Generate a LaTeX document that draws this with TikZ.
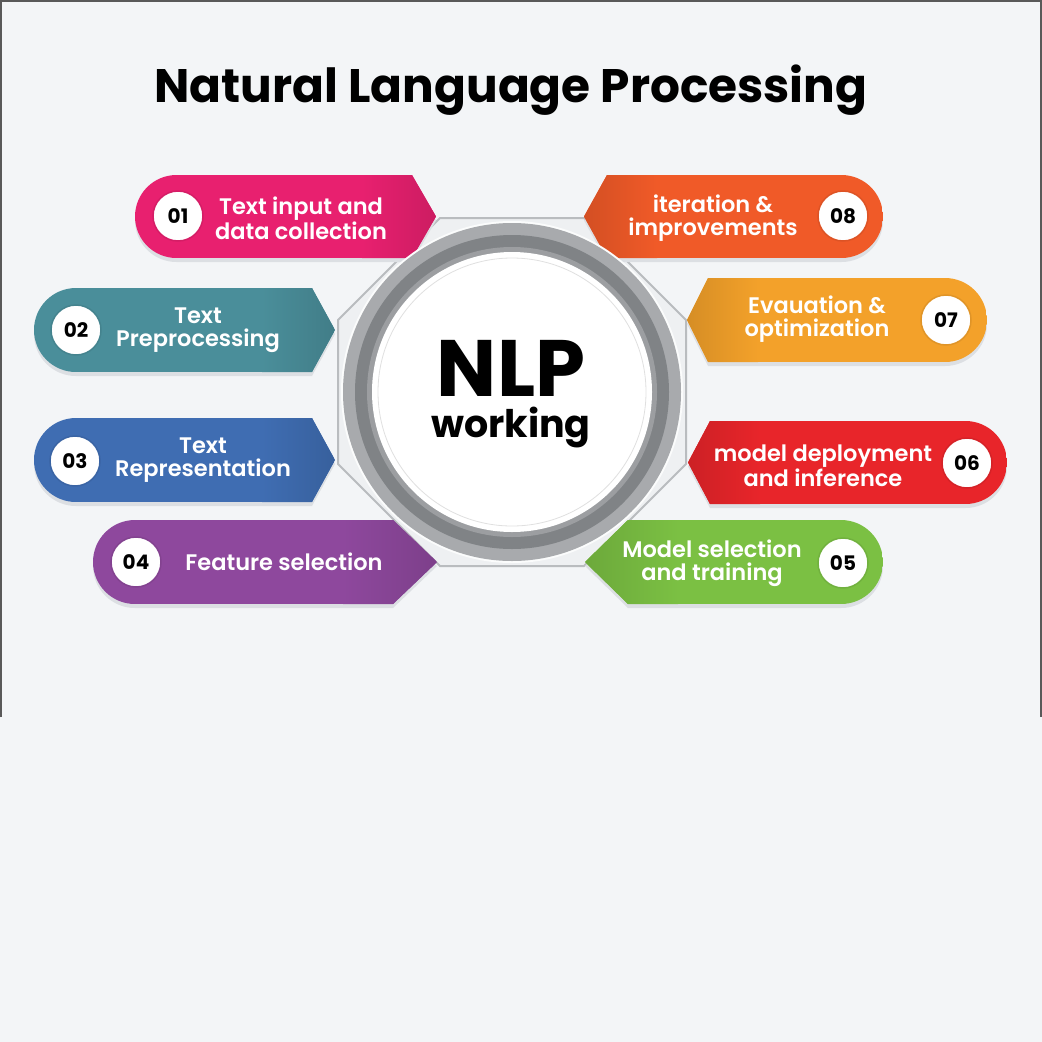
\documentclass[tikz,border=0pt]{standalone}
\usepackage{fontspec}
\setmainfont{Poppins}
\newfontfamily\semib{Poppins SemiBold}
\definecolor{bgc}{HTML}{F3F5F7}
\definecolor{shadowc}{HTML}{DCDFE3}
\definecolor{octfill}{HTML}{EEF0F2}
\definecolor{octline}{HTML}{B9BCBF}
\definecolor{ringA}{HTML}{A8AAAD}
\definecolor{ringB}{HTML}{808386}
\definecolor{ringC}{HTML}{9C9EA1}
\definecolor{cA}{HTML}{E8206F}
\definecolor{cB}{HTML}{4A8E9A}
\definecolor{cC}{HTML}{3F6DB2}
\definecolor{cD}{HTML}{8E489D}
\definecolor{cE}{HTML}{7BC043}
\definecolor{cF}{HTML}{E8252A}
\definecolor{cG}{HTML}{F3A12A}
\definecolor{cH}{HTML}{F05A28}
\tikzset{
  numc/.style={circle, fill=white, minimum size=50pt, inner sep=0pt, text=black,
    font=\bfseries\fontsize{20}{20}\selectfont},
  tabtext/.style={text=white, align=center, inner sep=0pt,
    font=\semib\fontsize{22.5}{23.5}\selectfont},
}
\newcommand{\lefttab}[6]{%
  \pgfmathsetmacro{\tabr}{(#3-#2)/2}%
  \pgfmathsetmacro{\tabym}{(#2+#3)/2}%
  \fill[shadowc,yshift=-4pt] (#1+\tabr,#2) -- (#4,#2) -- (#5,\tabym) -- (#4,#3) -- (#1+\tabr,#3)
     arc[start angle=90,end angle=270,radius=\tabr] -- cycle;
  \begin{scope}
  \clip (#1+\tabr,#2) -- (#4,#2) -- (#5,\tabym) -- (#4,#3) -- (#1+\tabr,#3)
     arc[start angle=90,end angle=270,radius=\tabr] -- cycle;
  \fill[#6] (#1,#2) rectangle (#5,#3);
  \shade[left color=#6, right color=#6!88!black] (#4-50,#2) rectangle (#5,#3);
  \end{scope}
}
\newcommand{\righttab}[6]{%
  \pgfmathsetmacro{\tabr}{(#3-#2)/2}%
  \pgfmathsetmacro{\tabym}{(#2+#3)/2}%
  \fill[shadowc,yshift=-4pt] (#1-\tabr,#2) arc[start angle=270,end angle=450,radius=\tabr]
     -- (#4,#3) -- (#5,\tabym) -- (#4,#2) -- cycle;
  \begin{scope}
  \clip (#1-\tabr,#2) arc[start angle=270,end angle=450,radius=\tabr]
     -- (#4,#3) -- (#5,\tabym) -- (#4,#2) -- cycle;
  \fill[#6] (#5,#2) rectangle (#1,#3);
  \shade[left color=#6!88!black, right color=#6] (#5,#2) rectangle (#4+50,#3);
  \end{scope}
}
\begin{document}
\begin{tikzpicture}[x=1pt,y=-1pt]
\useasboundingbox (0,0) rectangle (1042,1042);
\fill[bgc] (0,0) rectangle (1042,1042);
\draw[color=black!65, line width=2pt] (1,717) -- (1,1) -- (1041,1) -- (1041,717);

% title
\node[font=\bfseries\fontsize{47}{47}\selectfont, text=black] (title) at (511,90) {Natural Language Processing};

% octagon
\draw[fill=octfill, draw=octline, line width=2pt]
  (440,218) -- (584,218) -- (686,320) -- (686,464) -- (584,566) -- (440,566) -- (338,464) -- (338,320) -- cycle;

% tabs
\lefttab{135}{175}{258}{412}{436}{cA}
\lefttab{34}{288}{372}{312}{335}{cB}
\lefttab{34}{418}{502}{312}{335}{cC}
\lefttab{93}{520}{604}{393}{437}{cD}
\righttab{883}{175}{258}{607}{584}{cH}
\righttab{987}{278}{362}{708}{687}{cG}
\righttab{1007}{421}{504}{710}{688}{cF}
\righttab{883}{520}{604}{628}{585}{cE}

% center circle
\fill[white!96!ringA] (512,392) circle[radius=171];
\fill[ringA] (512,392) circle[radius=169];
\fill[ringB] (512,392) circle[radius=157];
\fill[ringC] (512,392) circle[radius=145];
\fill[white] (512,392) circle[radius=140];
\draw[black!12, line width=0.8pt] (512,392) circle[radius=134];
\node[font=\bfseries\fontsize{38}{41}\selectfont, inner sep=0pt, align=center] (nlp) at (511,394)
  {{\fontsize{80}{80}\selectfont NLP}\\working};

% numbers
\node[numc, draw=cA!92!black, line width=1.5pt] (n1) at (178,216) {01};
\node[numc, draw=cB!92!black, line width=1.5pt] (n2) at (76,330) {02};
\node[numc, draw=cC!92!black, line width=1.5pt] (n3) at (75,461) {03};
\node[numc, draw=cD!92!black, line width=1.5pt] (n4) at (136,562) {04};
\node[numc, draw=cH!92!black, line width=1.5pt] (n8) at (843,216) {08};
\node[numc, draw=cG!92!black, line width=1.5pt] (n7) at (946,320) {07};
\node[numc, draw=cF!92!black, line width=1.5pt] (n6) at (967,463) {06};
\node[numc, draw=cE!92!black, line width=1.5pt] (n5) at (843,563) {05};

% labels
\node[tabtext] (t1) at (301,218) {Text input and\\data collection};
\node[tabtext] (t2) at (198,330) {Text\\Preprocessing};
\node[tabtext] (t3) at (203,460) {Text\\Representation};
\node[tabtext] (t4) at (284,562) {Feature selection};
\node[tabtext] (t8) at (713,218) {iteration \&\\improvements};
\node[tabtext] (t7) at (817,319) {Evauation \&\\optimization};
\node[tabtext] (t6) at (823,466) {model deployment\\and inference};
\node[tabtext] (t5) at (712,563) {Model selection\\and training};
\end{tikzpicture}
\end{document}
